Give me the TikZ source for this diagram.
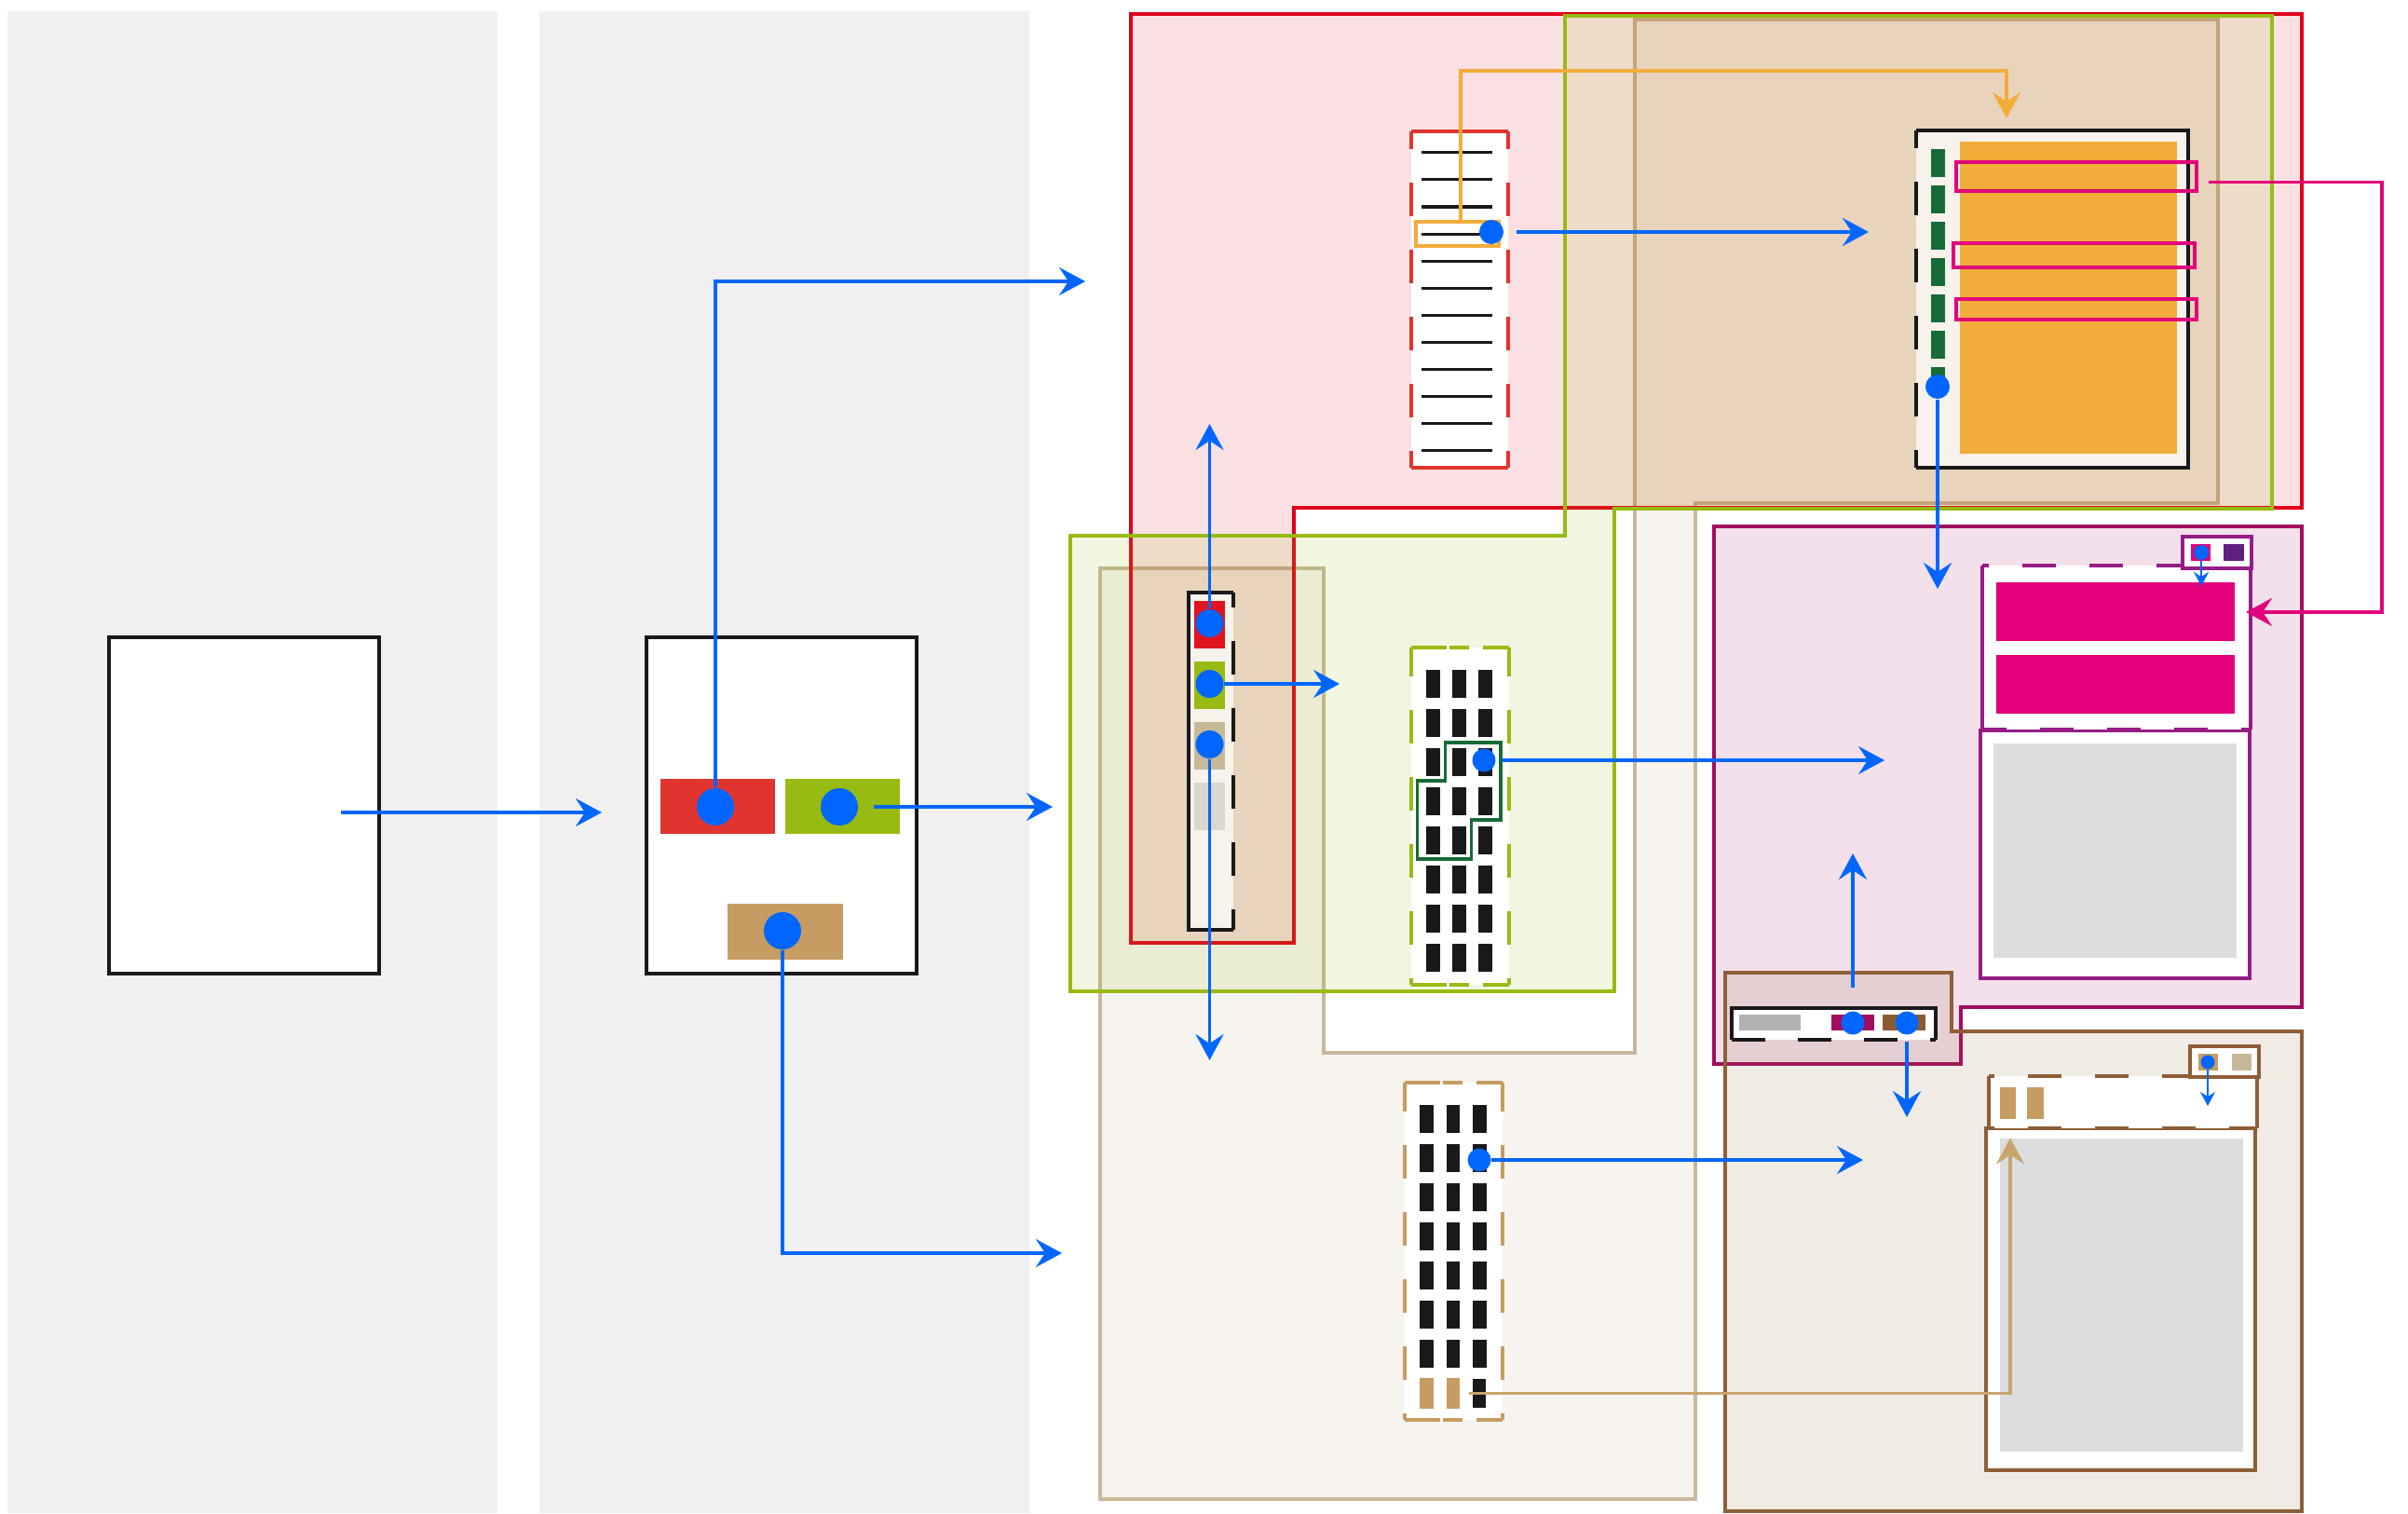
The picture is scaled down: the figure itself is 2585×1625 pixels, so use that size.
\documentclass[tikz,border=0pt]{standalone}
\definecolor{panelgray}{HTML}{F0F0F0}
\definecolor{flowblue}{HTML}{0066FF}
\definecolor{keyred}{HTML}{E0352F}
\definecolor{zonered}{HTML}{E0001B}
\definecolor{crimson}{HTML}{E0141F}
\definecolor{zonegreen}{HTML}{97BB12}
\definecolor{keytan}{HTML}{C69C62}
\definecolor{zonetan}{HTML}{C8B89A}
\definecolor{tanline}{HTML}{C8A46E}
\definecolor{amber}{HTML}{F2AC3A}
\definecolor{leaf}{HTML}{176B37}
\definecolor{fuchsia}{HTML}{E2007A}
\definecolor{zoneplum}{HTML}{A20D5E}
\definecolor{plum}{HTML}{961C86}
\definecolor{grape}{HTML}{5E1F7D}
\definecolor{zonebrown}{HTML}{8E5E36}
\definecolor{bark}{HTML}{8B5A33}
\definecolor{screengray}{HTML}{DCDDDF}
\definecolor{stone}{HTML}{B1B2B4}
\definecolor{mist}{HTML}{DAD7CF}
\definecolor{ink}{HTML}{1A181B}
\definecolor{paper}{HTML}{F7F2EC}
\usepackage{xcolor}
\usepackage{tikz}
\usetikzlibrary{arrows.meta,positioning,fit}

\begin{document}
\begin{tikzpicture}[x=0.01cm, y=-0.01cm,
      zone/.style={line width=1pt, draw=#1, fill=#1, fill opacity=0.13},
      patch/.style={inner sep=0pt, outer sep=0pt},
      frame/.style={patch, draw=ink, line width=1pt, fill=white},
      rim/.style={line width=1pt, draw=#1},
      sidedash/.style={dash pattern=on 0.36cm off 0.36cm, dash phase=#1},
      sidedash/.default=0.17cm,
      capdash/.style={dash pattern=on 0.38cm off 0.03cm on 0.21cm off 0.15cm},
      rowmark/.style={patch, draw=fuchsia, line width=1pt},
      dot/.style={circle, fill=flowblue, inner sep=0pt, minimum size=#1},
      dot/.default=0.4cm,
      arr/.style={-{Stealth[length=0.28cm, width=0.3cm, inset=0.1cm]}, line width=1pt, draw=flowblue},
      tick/.style={-{Stealth[length=0.15cm, width=0.16cm, inset=0.05cm]}, line width=0.7pt, draw=flowblue},
      oarr/.style={arr, draw=amber},
      marr/.style={arr, draw=fuchsia},
      tanarr/.style={arr, draw=tanline}
  ]
    \useasboundingbox (0,0) rectangle (2585,1625);
    % lanes
    \fill[panelgray] (8,12) rectangle (534,1624);
    \fill[panelgray] (579,12) rectangle (1105,1624);

    % zones
    \draw[zone=zonetan, fill opacity=0.15] (1755,21) -- (2381,21) -- (2381,540) -- (1820,540) -- (1820,1609)
      -- (1181,1609) -- (1181,610) -- (1421,610) -- (1421,1130) -- (1755,1130) -- cycle;
    \draw[zone=zonered, fill opacity=0.12] (1214,15) -- (2471,15) -- (2471,545) -- (1389,545) -- (1389,1012)
      -- (1214,1012) -- cycle;
    \draw[zone=zonegreen, fill opacity=0.13] (1680,17) -- (2439,17) -- (2439,546) -- (1733,546) -- (1733,1064)
      -- (1149,1064) -- (1149,575) -- (1680,575) -- cycle;
    \draw[zone=zoneplum] (1840,565) -- (2471,565) -- (2471,1081) -- (2105,1081) -- (2105,1142) -- (1840,1142) -- cycle;
    \draw[zone=zonebrown, fill opacity=0.125] (1852,1044) -- (2095,1044) -- (2095,1107) -- (2471,1107) -- (2471,1622)
      -- (1852,1622) -- cycle;

    % source pages
    \node[frame, fit={(117,684) (407,1045)}] (pageA) {};
    \node[frame, fit={(694,684) (984,1045)}] (pageB) {};
    \node[patch, fill=keyred, fit={(709,836) (832,895)}] (kRed) {};
    \node[patch, fill=zonegreen, fit={(843,836) (966,895)}] (kGreen) {};
    \node[patch, fill=keytan, fit={(781,970) (905,1030)}] (kTan) {};
    \node[dot] (dRed) at (768,866) {};
    \node[dot] (dGreen) at (901,866) {};
    \node[dot] (dTan) at (840,999) {};

    % list in red zone
    \node[patch, fill=white, fit={(1515,141) (1619,502)}] (list) {};
    \draw[rim=keyred] (list.north west) -- (list.north east);
    \draw[rim=keyred] (list.south west) -- (list.south east);
    \draw[rim=keyred, sidedash] (list.north west) -- (list.south west);
    \draw[rim=keyred, sidedash] (list.north east) -- (list.south east);
    \foreach \k in {0,...,11}
      \draw[ink, line width=0.9pt] (1526,{163.8+29.1*\k}) -- (1602,{163.8+29.1*\k});
    \node[patch, draw=amber, line width=1pt, fit={(1520,238) (1609,264)}] (pick) {};
    \node[dot=0.26cm] (dPick) at (1601,249) {};

    % phone
    \node[patch, fill=paper, fit={(2057,140) (2349,502)}] (phone) {};
    \draw[rim=ink] (phone.north west) -- (phone.north east) -- (phone.south east) -- (phone.south west);
    \draw[rim=ink, sidedash] (phone.north west) -- (phone.south west);
    \node[patch, fill=amber, fit={(2104,152) (2337,487)}] (sheet) {};
    \foreach \k in {0,...,6}
      \fill[leaf] (2073,{160+39*\k}) rectangle (2088,{190+39*\k});
    \node[rowmark, fit={(2100,174) (2358,205)}] (rowA) {};
    \node[rowmark, fit={(2097,261) (2356,287)}] (rowB) {};
    \node[rowmark, fit={(2100,321) (2358,343)}] (rowC) {};
    \node[dot=0.26cm] (dPhone) at (2080,415) {};

    % column in red zone
    \node[patch, fill=paper, fit={(1276,636) (1324,998)}] (col) {};
    \draw[rim=ink] (col.north east) -- (col.north west) -- (col.south west) -- (col.south east);
    \draw[rim=ink, sidedash=0.2cm] (col.north east) -- (col.south east);
    \node[patch, fill=crimson, fit={(1282,645) (1315,696)}] (cellA) {};
    \node[patch, fill=zonegreen, fit={(1282,710) (1315,761)}] (cellB) {};
    \node[patch, fill=zonetan, fit={(1282,775) (1315,826)}] (cellC) {};
    \node[patch, fill=mist, fit={(1282,840) (1315,891)}] (cellD) {};
    \node[dot=0.3cm] (cRed) at (1298.5,669) {};
    \node[dot=0.3cm] (cGreen) at (1298.5,734) {};
    \node[dot=0.3cm] (cTan) at (1298.5,799) {};

    % green grid
    \node[patch, fill=white, fit={(1515,695) (1620,1057)}] (gridG) {};
    \draw[rim=zonegreen, capdash] (gridG.north west) -- (gridG.north east);
    \draw[rim=zonegreen, capdash] (gridG.south west) -- (gridG.south east);
    \draw[rim=zonegreen, sidedash=0.05cm] (gridG.north west) -- (gridG.south west);
    \draw[rim=zonegreen, sidedash=0.05cm] (gridG.north east) -- (gridG.south east);
    \foreach \k in {0,...,7}
      \foreach \c in {1531,1559,1587}
        \fill[ink] (\c,{718.6+42.1*\k}) rectangle ({\c+14.5},{748.6+42.1*\k});
    \draw[leaf, line width=1pt] (1551.6,797) -- (1611,797) -- (1611,880) -- (1579.7,880) -- (1579.7,922)
      -- (1521.7,922) -- (1521.7,838) -- (1551.6,838) -- cycle;
    \node[dot=0.25cm] (dGrid) at (1593,816) {};

    % tan grid
    \node[patch, fill=white, fit={(1508,1162) (1613,1524)}] (gridT) {};
    \draw[rim=keytan, capdash] (gridT.north west) -- (gridT.north east);
    \draw[rim=keytan, capdash] (gridT.south west) -- (gridT.south east);
    \draw[rim=keytan, sidedash=0.05cm] (gridT.north west) -- (gridT.south west);
    \draw[rim=keytan, sidedash=0.05cm] (gridT.north east) -- (gridT.south east);
    \foreach \k in {0,...,6}
      \foreach \c in {1524,1552.5,1581}
        \fill[ink] (\c,{1186+42*\k}) rectangle ({\c+14.5},{1215.5+42*\k});
    \node[patch, fill=keytan, fit={(1524,1479) (1539,1512)}] (tb1) {};
    \node[patch, fill=keytan, fit={(1552.5,1479) (1567,1512)}] (tb2) {};
    \node[patch, fill=ink, fit={(1581,1480) (1595,1511)}] (tb3) {};
    \node[dot=0.25cm] (dTanGrid) at (1588,1245) {};

    % plum panel
    \node[patch, fill=white, draw=plum, line width=1pt, fit={(2126,784) (2415,1050)}] (lowerM) {};
    \node[patch, fill=screengray, fit={(2140,798) (2401,1028)}] (screenM) {};
    \node[patch, fill=white, fit={(2128,607) (2416,783)}] (headM) {};
    \draw[rim=plum] (headM.north west) -- (headM.south west);
    \draw[rim=plum] (headM.north east) -- (headM.south east);
    \draw[rim=plum, sidedash=0.29cm] (headM.north west) -- (headM.north east);
    \draw[rim=plum, sidedash=0.1cm] (headM.south west) -- (headM.south east);
    \node[patch, fill=fuchsia, fit={(2143,625) (2399,688)}] (bandA) {};
    \node[patch, fill=fuchsia, fit={(2143,703) (2399,766)}] (bandB) {};
    \node[patch, fill=white, draw=plum, line width=1pt, fit={(2343,576) (2417,610)}] (tabM) {};
    \node[patch, fill=fuchsia, fit={(2352,584) (2373,602)}] (swA) {};
    \node[patch, fill=grape, fit={(2387,584) (2409,602)}] (swB) {};
    \node[dot=0.16cm] (dTabM) at (2363,593) {};

    % strip
    \node[patch, fill=white, fit={(1859,1082) (2078,1116)}] (strip) {};
    \draw[rim=ink] (strip.south west) -- (strip.north west) -- (strip.north east) -- (strip.south east);
    \draw[rim=ink, dash pattern=on 0.36cm off 0.35cm] (strip.south west) -- (strip.south east);
    \node[patch, fill=stone, fit={(1867,1089) (1933,1106)}] (chipA) {};
    \node[patch, fill=zoneplum, fit={(1966,1089) (2012,1106)}] (chipB) {};
    \node[patch, fill=bark, fit={(2021,1089) (2067,1106)}] (chipC) {};
    \node[dot=0.25cm] (dPlum) at (1989,1098) {};
    \node[dot=0.25cm] (dBark) at (2047,1098) {};

    % brown panel
    \node[patch, fill=white, draw=zonebrown, line width=1pt, fit={(2132,1211) (2421,1578)}] (lowerB) {};
    \node[patch, fill=screengray, fit={(2147,1222) (2408,1558)}] (screenB) {};
    \node[patch, fill=white, fit={(2135,1155) (2423,1211)}] (headB) {};
    \draw[rim=zonebrown] (headB.north west) -- (headB.south west);
    \draw[rim=zonebrown] (headB.north east) -- (headB.south east);
    \draw[rim=zonebrown, sidedash=0.3cm] (headB.north west) -- (headB.north east);
    \draw[rim=zonebrown, sidedash=0.3cm] (headB.south west) -- (headB.south east);
    \node[patch, fill=keytan, fit={(2147,1167) (2164,1201)}] (barA) {};
    \node[patch, fill=keytan, fit={(2176,1167) (2194,1201)}] (barB) {};
    \node[patch, fill=white, draw=zonebrown, line width=1pt, fit={(2351,1123) (2425,1156)}] (tabB) {};
    \node[patch, fill=keytan, fit={(2360,1131) (2381,1149)}] (swC) {};
    \node[patch, fill=zonetan, fit={(2396,1131) (2417,1149)}] (swD) {};
    \node[dot=0.15cm] (dTabB) at (2370,1140) {};

    % arrow ends
    \coordinate (aOut) at (366,872);
    \coordinate (bIn) at (646,872);
    \coordinate (toTop) at (1165,302);
    \coordinate (toMid) at (1130,866);
    \coordinate (toLow) at (1140,1345);
    \coordinate (phoneTop) at (2154,127);
    \coordinate (toPhone) at (2006,249);
    \coordinate (toPanel) at (2080,632);
    \coordinate (panelSide) at (2411,657);
    \coordinate (bandTop) at (2363,629);
    \coordinate (upCol) at (1298.5,455);
    \coordinate (rightCol) at (1438,734);
    \coordinate (downCol) at (1298.5,1138);
    \coordinate (gridOut) at (2023,816);
    \coordinate (upTip) at (1989,916);
    \coordinate (downTip) at (2047,1199);
    \coordinate (tanOut) at (2000,1245);
    \coordinate (headTip) at (2370,1187);
    \coordinate (screenTip) at (2158,1221.5);

    % connectors
    \draw[arr] (aOut) -- (bIn);
    \draw[arr] (dRed) |- (toTop);
    \draw[arr, shorten <=0.16cm] (dGreen) -- (toMid);
    \draw[arr] (dTan) |- (toLow);
    \draw[oarr] ([xshift=0.035cm]pick.north) -- ++(0,-162) -| (phoneTop);
    \draw[arr, shorten <=0.13cm] (dPick) -- (toPhone);
    \draw[arr] (dPhone) -- (toPanel);
    \draw[marr] ([xshift=0.13cm, yshift=-0.06cm]rowA.east) -- ++(186,0) |- (panelSide);
    \draw[tick] (dTabM) -- (bandTop);
    \draw[arr] (cRed) -- (upCol);
    \draw[arr] (cGreen) -- (rightCol);
    \draw[arr] (cTan) -- (downCol);
    \draw[arr, shorten <=0.055cm] (dGrid) -- (gridOut);
    \draw[arr, shorten <=0.25cm] (dPlum) -- (upTip);
    \draw[arr, shorten <=0.07cm] (dBark) -- (downTip);
    \draw[arr] (dTanGrid) -- (tanOut);
    \draw[tick] (dTabB) -- (headTip);
    \draw[tanarr] ([xshift=0.1cm]tb2.east) -| (screenTip);
  \end{tikzpicture}
\end{document}
